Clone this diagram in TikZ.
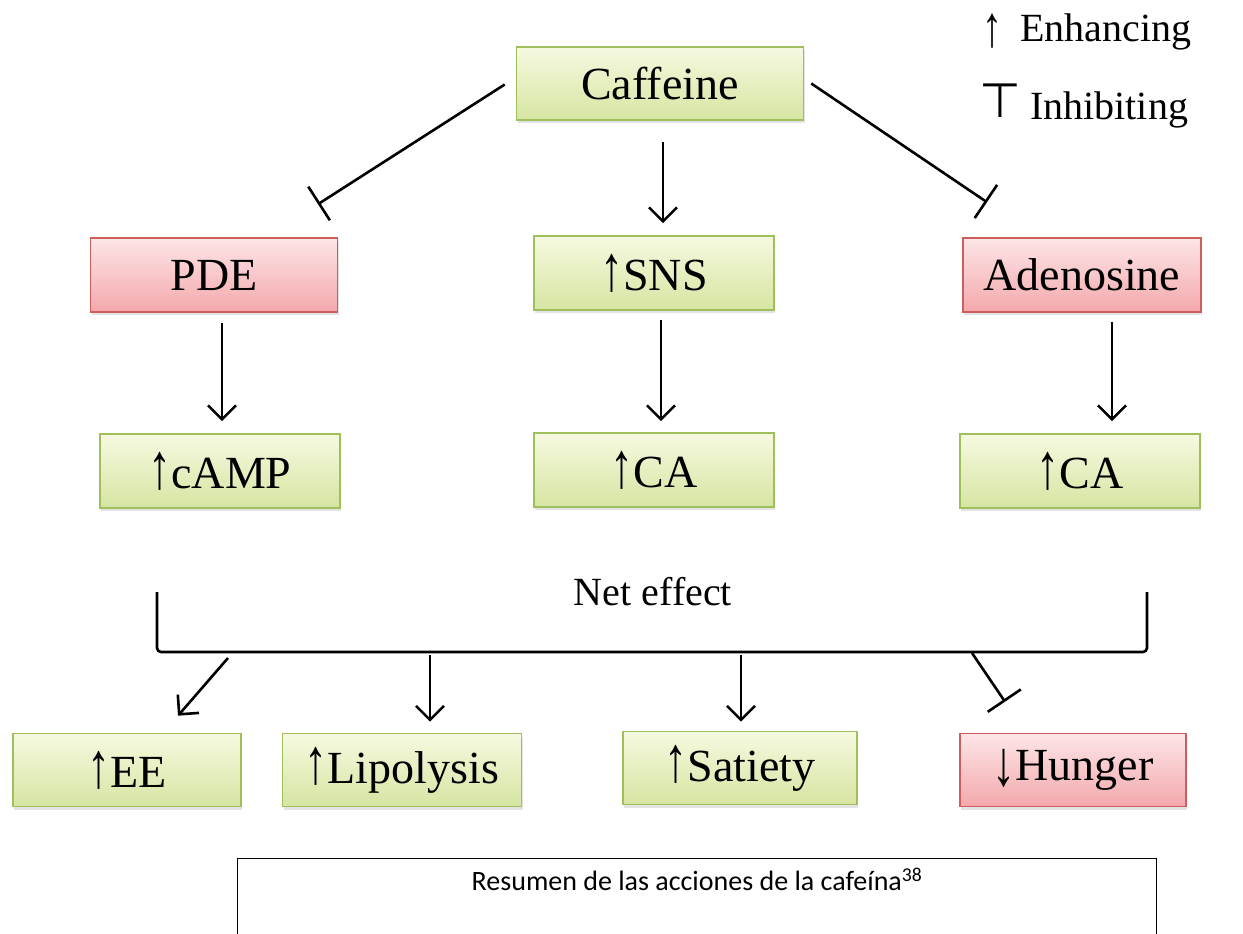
\documentclass[tikz,border=0pt]{standalone}
\usepackage{fontspec}
\usepackage{graphicx}
\setmainfont{Liberation Serif}
\newfontfamily\capfont{Carlito}
\newfontfamily\symfont{DejaVu Sans}
\usetikzlibrary{arrows.meta,shadows,calc}
\newcommand{\uparr}{\scalebox{1}[1.4]{↑}}
\newcommand{\dnarr}{\raisebox{-0.1em}{\scalebox{1}[1.4]{↓}}}
\definecolor{gborder}{HTML}{9FBE5C}
\definecolor{gtop}{HTML}{F6F9E0}
\definecolor{gbot}{HTML}{D6E5A2}
\definecolor{rborder}{HTML}{CC5E5E}
\definecolor{rtop}{HTML}{FDE6E7}
\definecolor{rbot}{HTML}{F3A8AC}
\tikzset{
  gbox/.style={draw=gborder, line width=1.6pt, top color=gtop, bottom color=gbot,
    minimum height=74pt, inner sep=0pt, font=\fontsize{46}{50}\selectfont,
    drop shadow={opacity=0.22, shadow xshift=1pt, shadow yshift=-3pt}},
  rbox/.style={gbox, draw=rborder, top color=rtop, bottom color=rbot},
  conn/.style={line width=2.6pt},
  arr/.style={conn, -{Straight Barb[length=14pt,width=28pt,line width=2.6pt]}},
  inh/.style={conn, -{Bar[width=40pt,line width=2.6pt]}},
  lbl/.style={font=\fontsize{40}{44}\selectfont, inner sep=0pt},
}
\begin{document}
\begin{tikzpicture}[x=1pt,y=-1pt]
\useasboundingbox (0,0) rectangle (1243,934);
% nodes
\node[gbox, minimum width=287pt, minimum height=73pt] (caf) at (660,83.5) {Caffeine};
\node[rbox, minimum width=247pt] (pde) at (214,275) {PDE};
\node[gbox, minimum width=240pt] (sns) at (654,273) {\uparr SNS};
\node[rbox, minimum width=238pt] (aden) at (1082,275) {Adenosine};
\node[gbox, minimum width=240pt] (camp) at (220,471) {\uparr cAMP};
\node[gbox, minimum width=240pt] (ca1) at (654,470) {\uparr CA};
\node[gbox, minimum width=240pt] (ca2) at (1080,471) {\uparr CA};
\node[gbox, minimum width=228pt, minimum height=73pt] (ee) at (127,770) {\uparr EE};
\node[gbox, minimum width=239pt, minimum height=73pt] (lip) at (402,770) {\uparr Lipolysis};
\node[gbox, minimum width=234pt, minimum height=73pt] (sat) at (740,768) {\uparr Satiety};
\node[rbox, minimum width=226pt, minimum height=73pt] (hun) at (1073,770) {\dnarr Hunger};
% legend
\node[inner sep=0pt, font=\fontsize{40}{44}\selectfont] (lgup) at (992,31) {\scalebox{1}[1.45]{↑}};
\node[lbl, anchor=west] (lgen) at (1020,32) {Enhancing};
\node[inner sep=0pt, font=\symfont\fontsize{48}{52}\selectfont] (lgt) at (1000,101) {⊤};
\node[lbl, anchor=west] (lgin) at (1030,110) {Inhibiting};
% top connectors
\draw[inh] ($(caf.west)+(-11,1)$) -- ($(pde.north)+(104,-33)$);
\draw[inh] ($(caf.east)+(7,0)$) -- ($(aden.north)+(-95,-35)$);
\draw[arr] ($(caf.south)+(3,21)$) -- ($(sns.north)+(9,-12)$);
\draw[arr] ($(pde.south)+(8,10)$) -- ($(camp.north)+(2,-12)$);
\draw[arr] ($(sns.south)+(7,9)$) -- ($(ca1.north)+(7,-11)$);
\draw[arr] ($(aden.south)+(30,9)$) -- ($(ca2.north)+(32,-12)$);
% net effect bracket
\node[lbl] (net) at (653,592) {Net effect};
\coordinate (bl) at (157,592);
\coordinate (br) at (1147,592);
\draw[conn, rounded corners=4pt] (bl) -- (bl |- 0,652) -- (br |- 0,652) -- (br);
\coordinate (b1) at (228,658);
\coordinate (b2) at (430,655);
\coordinate (b3) at (741,655);
\coordinate (b4) at (972,653);
\draw[arr] (b1) -- ($(ee.north)+(51,-17)$);
\draw[arr] (b2) -- ($(lip.north)+(28,-11)$);
\draw[arr] (b3) -- ($(sat.north)+(1,-9)$);
\draw[inh] (b4) -- ($(hun.north)+(-68,-31)$);
% caption
\draw[line width=1pt] (237,858) rectangle (1156,960);
\node[font=\capfont\fontsize{28}{32}\selectfont] (cap) at (697,879) {Resumen de las acciones de la cafeína\textsuperscript{38}};
\end{tikzpicture}
\end{document}
